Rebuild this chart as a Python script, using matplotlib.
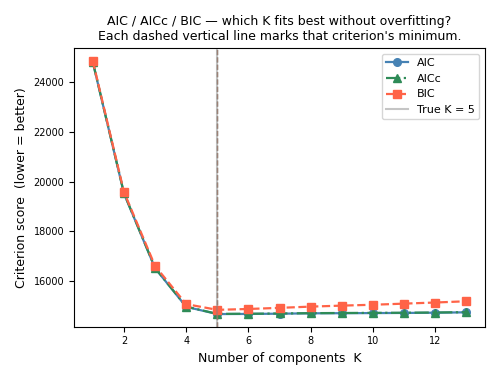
import matplotlib
matplotlib.use("Agg")
import matplotlib.pyplot as plt

# candidate numbers of components
K = [1, 2, 3, 4, 5, 6, 7, 8, 9, 10, 11, 12, 13]

# criterion scores
aic = [24800, 19520, 16510, 14955, 14665, 14670, 14680, 14695, 14700, 14705, 14710, 14720, 14735]
aicc = [24810, 19530, 16520, 14965, 14672, 14678, 14688, 14702, 14708, 14713, 14718, 14728, 14742]
bic = [24850, 19580, 16600, 15065, 14835, 14870, 14915, 14965, 15005, 15040, 15085, 15130, 15180]
true_k = 5

fig, ax = plt.subplots(figsize=(5, 3.8), dpi=100)

series = [
    ("AIC", aic, "steelblue", "-", "o"),
    ("AICc", aicc, "seagreen", "-.", "^"),
    ("BIC", bic, "tomato", "--", "s"),
]
for name, vals, col, ls, mk in series:
    ax.plot(K, vals, color=col, linestyle=ls, marker=mk, label=name, lw=1.6, markersize=5.5)
    kmin = K[vals.index(min(vals))]
    ax.axvline(kmin, color=col, linestyle="--", lw=1, alpha=0.5)

ax.axvline(true_k, color="gray", lw=1.5, alpha=0.45, label=f"True K = {true_k}")

ax.set_title("AIC / AICc / BIC \u2014 which K fits best without overfitting?\n"
             "Each dashed vertical line marks that criterion's minimum.", fontsize=9)
ax.set_xlabel("Number of components  K", fontsize=9)
ax.set_ylabel("Criterion score  (lower = better)", fontsize=9)
ax.tick_params(labelsize=7)
ax.legend(fontsize=8)

plt.tight_layout()
plt.savefig("out.png")
